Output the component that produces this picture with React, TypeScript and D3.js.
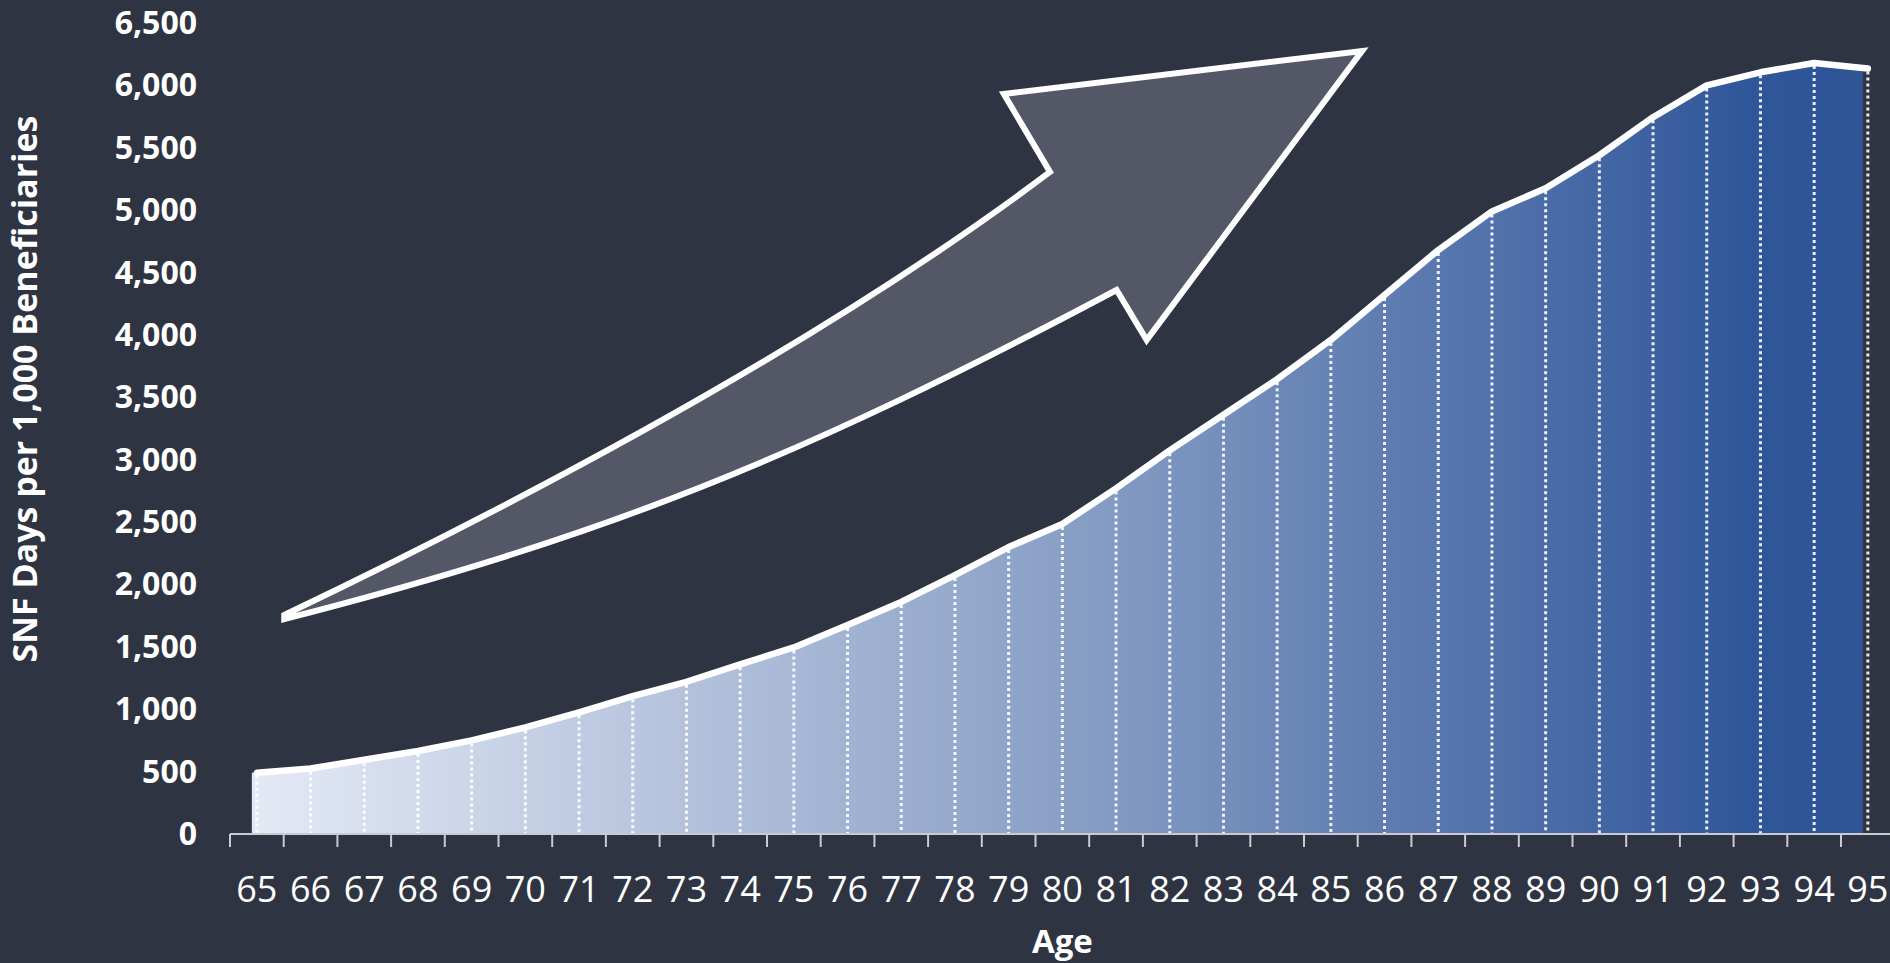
import React from "react";
import * as d3 from "d3";

// ---- data ----
const ages = [65, 66, 67, 68, 69, 70, 71, 72, 73, 74, 75, 76, 77, 78, 79, 80, 81, 82, 83, 84, 85, 86, 87, 88, 89, 90, 91, 92, 93, 94, 95];
const snfDays = [490, 525, 595, 665, 750, 855, 975, 1105, 1220, 1360, 1495, 1675, 1860, 2075, 2300, 2485, 2770, 3075, 3360, 3645, 3960, 4320, 4680, 4990, 5175, 5440, 5745, 6000, 6105, 6180, 6135];
const yTicks = [0, 500, 1000, 1500, 2000, 2500, 3000, 3500, 4000, 4500, 5000, 5500, 6000, 6500];
const xTitle = "Age";
const yTitle = "SNF Days per 1,000 Beneficiaries";

// decorative arrow outline in data units [age, value]
const arrowTailTop: [number, number] = [65.51, 1755];
const arrowUpperCtrl: [number, number] = [74.54, 3615];
const arrowNotchTop: [number, number] = [79.77, 5306];
const arrowHead: [number, number][] = [[78.91, 5931], [85.58, 6276], [81.57, 3959], [81.01, 4360]];
const arrowLowerCtrl1: [number, number] = [75.06, 3001];
const arrowLowerCtrl2: [number, number] = [71.47, 2382];
const arrowTailBottom: [number, number] = [65.51, 1723];

const W = 1890;
const H = 963;
const BG = "#2f3442";

export default function App() {
  const band = d3.scaleBand<number>().domain(ages).range([230, 230 + 31 * 53.7]).padding(0);
  const bw = band.bandwidth();
  const cx = (a: number) => (band(a) as number) + bw / 2;
  const y = d3.scaleLinear().domain([0, 6500]).range([834, 23]);
  // continuous age scale for the decorative arrow
  const xa = d3.scaleLinear().domain([65, 95]).range([cx(65), cx(95)]);
  const P = (p: [number, number]): [number, number] => [xa(p[0]), y(p[1])];

  const pts = ages.map((a, i) => ({ a, v: snfDays[i] }));
  const areaGen = d3
    .area<{ a: number; v: number }>()
    .x((d) => cx(d.a) - 5)
    .y0(y(0))
    .y1((d) => y(d.v));
  const lineGen = d3
    .line<{ a: number; v: number }>()
    .x((d) => cx(d.a))
    .y((d) => y(d.v));

  const ap = d3.path();
  const t0 = P(arrowTailTop);
  const c0 = P(arrowUpperCtrl);
  const n0 = P(arrowNotchTop);
  ap.moveTo(t0[0], t0[1]);
  ap.quadraticCurveTo(c0[0], c0[1], n0[0], n0[1]);
  arrowHead.forEach((p) => {
    const q = P(p);
    ap.lineTo(q[0], q[1]);
  });
  const c1 = P(arrowLowerCtrl1);
  const c2 = P(arrowLowerCtrl2);
  const t1 = P(arrowTailBottom);
  ap.bezierCurveTo(c1[0], c1[1], c2[0], c2[1], t1[0], t1[1]);
  ap.closePath();

  const x0 = band(ages[0]) as number;
  const xEnd = 230 + 31 * 53.7;

  return (
    <svg
      width={W}
      height={H}
      style={{ position: "absolute", left: 0, top: 0, display: "block", background: BG }}
      fontFamily="'Open Sans', 'Noto Sans', sans-serif"
    >
      <defs>
        <linearGradient id="areaGrad" gradientUnits="userSpaceOnUse" x1={cx(65) - 5} x2={cx(95) - 5} y1={0} y2={0}>
          <stop offset="0" stopColor="#e4e9f5" />
          <stop offset="0.5" stopColor="#8aa0c6" />
          <stop offset="0.93" stopColor="#30569a" />
          <stop offset="1" stopColor="#2f5597" />
        </linearGradient>
      </defs>
      <rect x={0} y={0} width={W} height={H} fill={BG} />

      {/* area */}
      <path d={areaGen(pts) as string} fill="url(#areaGrad)" />

      {/* drop lines */}
      {pts.map((d) => (
        <line
          key={d.a}
          x1={cx(d.a)}
          x2={cx(d.a)}
          y1={y(d.v) + 3}
          y2={y(0)}
          stroke="#ffffff"
          strokeOpacity={0.9}
          strokeWidth={3}
          strokeDasharray="3 3"
        />
      ))}

      {/* line */}
      <path d={lineGen(pts) as string} fill="none" stroke="#ffffff" strokeWidth={6.5} strokeLinejoin="round" strokeLinecap="round" />

      {/* x axis */}
      <line x1={x0} x2={W} y1={y(0)} y2={y(0)} stroke="#c9cbd0" strokeWidth={2} />
      {ages.map((a) => (
        <line key={"t" + a} x1={band(a)} x2={band(a)} y1={y(0)} y2={y(0) + 13} stroke="#c9cbd0" strokeWidth={2} />
      ))}
      {ages.map((a) => (
        <text key={"l" + a} x={cx(a)} y={902} textAnchor="middle" fill="#ffffff" fontSize={36}>
          {a}
        </text>
      ))}

      {/* y axis labels */}
      {yTicks.map((t) => (
        <text key={"y" + t} x={197} y={y(t) + 11} textAnchor="end" fill="#ffffff" fontSize={32} fontWeight={700}>
          {d3.format(",")(t)}
        </text>
      ))}

      {/* titles */}
      <text x={(x0 + xEnd) / 2} y={953} textAnchor="middle" fill="#ffffff" fontSize={33} fontWeight={700}>
        {xTitle}
      </text>
      <text
        transform={`translate(37, 389) rotate(-90)`}
        textAnchor="middle"
        fill="#ffffff"
        fontSize={34}
        fontWeight={700}
      >
        {yTitle}
      </text>

      {/* decorative arrow */}
      <path d={ap.toString()} fill="#545866" stroke="#ffffff" strokeWidth={6} strokeLinejoin="miter" strokeMiterlimit={10} />
    </svg>
  );
}
